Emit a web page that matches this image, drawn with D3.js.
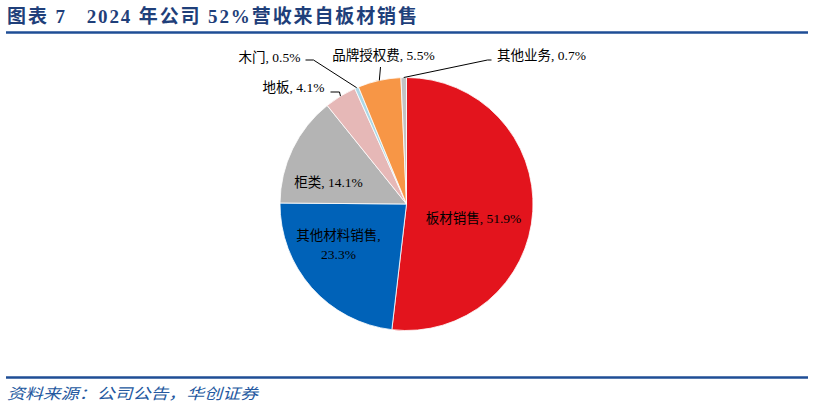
<!DOCTYPE html>
<html>
<head>
<meta charset="utf-8">
<script src="https://cdn.jsdelivr.net/npm/d3@7"></script>
<style>
  body { margin: 0; background: #fff; }
</style>
</head>
<body>
<div id="chart"></div>
<script>
// data
const categories = ["板材销售", "其他材料销售", "柜类", "地板", "木门", "品牌授权费", "其他业务"];
const shares = [51.9, 23.3, 14.1, 4.1, 0.5, 5.5, 0.7];
const sliceColors = ["#E3141D", "#0062B8", "#B4B4B4", "#E6B8B7", "#ADD8E6", "#F79646", "#C3C3C3"];

const W = 814, H = 408;
const cx = 406.5, cy = 204, r = 126.5;

const svg = d3.select("#chart")
  .append("svg")
  .attr("width", W)
  .attr("height", H);

// title + rules
svg.append("text")
  .attr("x", 7)
  .attr("y", 23)
  .attr("fill", "#1F3F7A")
  .attr("font-family", "'Liberation Serif', 'Noto Sans CJK SC'")
  .attr("font-weight", "bold")
  .attr("font-size", 19)
  .attr("textLength", 410)
  .attr("lengthAdjust", "spacing")
  .style("white-space", "pre")
  .text("图表 7   2024 年公司 52%营收来自板材销售");

svg.append("line")
  .attr("x1", 6).attr("x2", 808)
  .attr("y1", 32.5).attr("y2", 32.5)
  .attr("stroke", "#1F4E96")
  .attr("stroke-width", 2.5);

svg.append("line")
  .attr("x1", 6).attr("x2", 808)
  .attr("y1", 377.5).attr("y2", 377.5)
  .attr("stroke", "#1F4E96")
  .attr("stroke-width", 2.5);

svg.append("text")
  .attr("x", 7)
  .attr("y", 399)
  .attr("fill", "#2458A0")
  .attr("font-family", "'Noto Sans CJK SC'")
  .attr("font-style", "italic")
  .attr("font-size", 15)
  .attr("textLength", 251)
  .attr("lengthAdjust", "spacingAndGlyphs")
  .text("资料来源：公司公告，华创证券");

// pie
const pie = d3.pie().sort(null).value(d => d.v);
const arcs = pie(categories.map((c, i) => ({ name: c, v: shares[i] })));
const arc = d3.arc().innerRadius(0).outerRadius(r);

const g = svg.append("g").attr("transform", `translate(${cx},${cy})`);

g.selectAll("path")
  .data(arcs)
  .join("path")
  .attr("d", arc)
  .attr("fill", (d, i) => sliceColors[i])
  .attr("stroke", "#fff")
  .attr("stroke-width", 0.8);

// label layout (relative to pie centre): text anchor point + leader elbow
const labelFont = "'Liberation Serif', 'Noto Sans CJK SC'";
const labelLayout = [
  { dx: 67, dy: 14, lines: ["板材销售, 51.9%"] },
  { dx: -68, dy: 40.5, lines: ["其他材料销售,", "23.3%"] },
  { dx: -78, dy: -22, lines: ["柜类, 14.1%"] },
  { dx: -113, dy: -117, lines: ["地板, 4.1%"], leader: [[-67, -112], [-76, -112]] },
  { dx: -137, dy: -147, lines: ["木门, 0.5%"], leader: [[-93, -144], [-101, -144]] },
  { dx: -23, dy: -149, lines: ["品牌授权费, 5.5%"], leader: [[-26, -137]] },
  { dx: 135, dy: -149, lines: ["其他业务, 0.7%"], leader: [[81, -144], [85, -144]] }
];

const outer = d3.arc().innerRadius(r).outerRadius(r);

arcs.forEach((d, i) => {
  const L = labelLayout[i];
  if (L.leader) {
    const p0 = outer.centroid(d);
    g.append("path")
      .attr("d", d3.line()([p0, ...L.leader]))
      .attr("fill", "none")
      .attr("stroke", "#000")
      .attr("stroke-width", 1);
  }
  const t = g.append("text")
    .attr("text-anchor", "middle")
    .attr("font-family", labelFont)
    .attr("font-size", 13.5)
    .attr("fill", "#000");
  L.lines.forEach((s, k) => {
    t.append("tspan")
      .attr("x", L.dx)
      .attr("y", L.dy + 4.5 + k * 19 - (L.lines.length - 1) * 9.5)
      .text(s);
  });
});
</script>
</body>
</html>
